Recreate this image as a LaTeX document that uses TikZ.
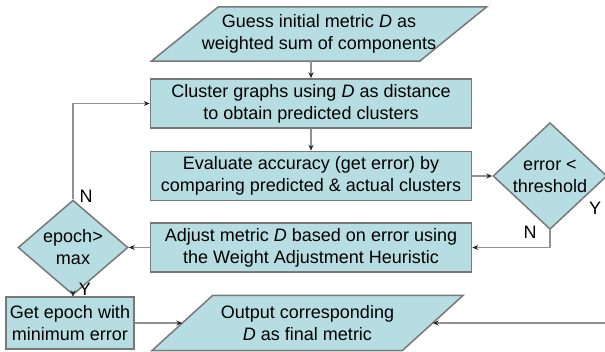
\documentclass[tikz,border=0pt]{standalone}
\usepackage{fontspec}
\setmainfont{Liberation Sans}
\usetikzlibrary{shapes.geometric,arrows.meta,backgrounds}
\definecolor{flowfill}{RGB}{182,221,226}
\definecolor{flowline}{RGB}{120,120,120}
\definecolor{linkgray}{RGB}{145,145,145}

\begin{document}
\begin{tikzpicture}[
    x=1pt, y=-1pt,
    font=\fontsize{18}{22}\selectfont,
    box/.style={rectangle, draw=flowline, fill=flowfill, line width=1.5pt, minimum width=321pt, minimum height=49pt, align=center, inner sep=2pt},
    smallbox/.style={rectangle, draw=flowline, fill=flowfill, line width=1.5pt, minimum width=128pt, minimum height=52pt, align=center, inner sep=2pt},
    iotext/.style={rectangle, align=center, inner sep=1pt},
    ioshape/.style={draw=flowline, fill=flowfill, line width=1.5pt, line join=miter},
    decision/.style={diamond, draw=flowline, fill=flowfill, line width=1.5pt, align=center, inner sep=0pt},
    arrow/.style={-{Stealth[length=6pt,width=5pt,color=black!85]}, draw=linkgray, line width=1.6pt},
    lbl/.style={inner sep=0pt}
]
    \useasboundingbox (0,0) rectangle (605,352);
    \clip (0,0) rectangle (605,352);

    % Main column
    \node[iotext, minimum width=268pt, minimum height=54pt] (guess) at (319,34) {Guess initial metric \textit{D} as\\weighted sum of components};
    \node[box] (cluster) at (311,103.5) {Cluster graphs using \textit{D} as distance\\to obtain predicted clusters};
    \node[box, below of=cluster, node distance=72.5pt] (evaluate) {Evaluate accuracy (get error) by\\comparing predicted \& actual clusters};
    \node[box, below of=evaluate, node distance=71.5pt] (adjust) {Adjust metric \textit{D} based on error using\\the Weight Adjustment Heuristic};

    % Decisions
    \node[decision, minimum width=114pt, minimum height=79pt] (thresh) at (550,176) {error <\\threshold};
    \node[decision, minimum width=110pt, minimum height=70pt] (epoch) at (73,247.5) {epoch>\\max};

    % Output
    \node[smallbox] (best) at (70,323) {Get epoch with\\minimum error};
    \node[iotext, minimum width=250pt, minimum height=55pt] (final) at (307.5,323) {Output corresponding\\\textit{D} as final metric};

    % Slanted outlines behind the input/output text
    \begin{scope}[on background layer]
        \draw[ioshape] ([xshift=33.5pt]guess.north west) -- ([xshift=33.5pt]guess.north east)
            -- ([xshift=-33.5pt]guess.south east) -- ([xshift=-33.5pt]guess.south west) -- cycle;
        \draw[ioshape] ([xshift=30.5pt]final.north west) -- ([xshift=30.5pt]final.north east)
            -- ([xshift=-30.5pt]final.south east) -- ([xshift=-30.5pt]final.south west) -- cycle;
    \end{scope}

    % Arrows
    \draw[arrow] (cluster.north |- guess.south) -- (cluster.north);
    \draw[arrow] (cluster) -- (evaluate);
    \draw[arrow] (evaluate) -- (thresh);
    \draw[arrow] (thresh.south) |- (adjust.east);
    \draw[arrow] (adjust) -- (epoch);
    \draw[arrow] (epoch.north) |- (cluster.west);
    \draw[arrow] (epoch.south) -- (epoch.south |- best.north);
    \draw[arrow] (best) -- (final);
    \draw[arrow] (thresh.east) -- ++(12,0) |- (final.east);

    % Labels
    \node[lbl] (epochno) at (86,196) {N};
    \node[lbl] (epochyes) at (85,289) {Y};
    \node[lbl] (threshno) at (530,232) {N};
    \node[lbl] (threshyes) at (595,208) {Y};

\end{tikzpicture}
\end{document}
